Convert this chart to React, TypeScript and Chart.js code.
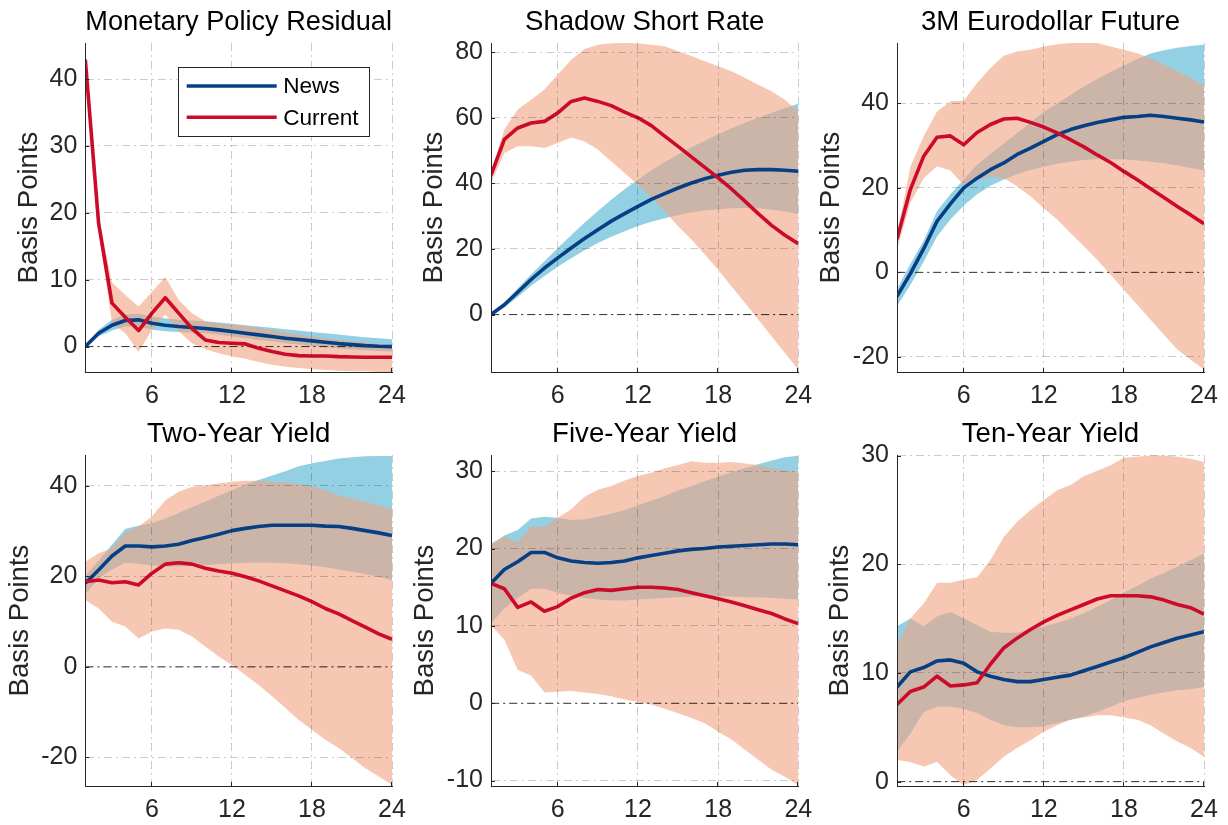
import React, { useEffect, useRef } from 'react';
import { Chart, registerables } from 'chart.js';

Chart.register(...registerables);

const FONT = '"Liberation Sans", Arial, Helvetica, sans-serif';
Chart.defaults.font.family = FONT;

// ---------------- DATA ----------------
const horizons = [1, 2, 3, 4, 5, 6, 7, 8, 9, 10, 11, 12, 13, 14, 15, 16, 17, 18, 19, 20, 21, 22, 23, 24];
const xTickValues = [6, 12, 18, 24];
const seriesLabels = ['News', 'Current'];
const yAxisLabel = 'Basis Points';

// Monetary Policy Residual
const mprNews = [0, 2.0, 3.2, 3.9, 4.0, 3.5, 3.2, 3.0, 2.85, 2.7, 2.5, 2.25, 2.0, 1.75, 1.5, 1.25, 1.05, 0.85, 0.65, 0.45, 0.3, 0.15, 0.05, 0];
const mprNewsHi = [0, 2.5, 4.0, 4.8, 4.9, 4.5, 4.2, 4.0, 3.9, 3.8, 3.6, 3.4, 3.2, 3.0, 2.8, 2.6, 2.4, 2.2, 2.0, 1.8, 1.6, 1.4, 1.25, 1.1];
const mprNewsLo = [0, 1.5, 2.4, 3.0, 3.0, 2.5, 2.3, 2.2, 2.1, 2.0, 1.8, 1.5, 1.3, 1.0, 0.8, 0.5, 0.3, 0.1, -0.1, -0.3, -0.45, -0.55, -0.65, -0.75];
const mprCurrent = [42.9, 18.4, 6.5, 4.4, 2.4, 5.0, 7.3, 5.0, 2.7, 1.0, 0.6, 0.5, 0.4, -0.25, -0.75, -1.15, -1.35, -1.4, -1.4, -1.5, -1.55, -1.6, -1.6, -1.6];
const mprCurrentHi = [43.6, 19.5, 9.6, 7.7, 6.0, 8.2, 10.4, 7.0, 5.0, 3.8, 3.5, 3.3, 3.1, 2.8, 2.5, 2.1, 1.8, 1.5, 1.3, 1.0, 0.8, 0.6, 0.4, 0.3];
const mprCurrentLo = [42.2, 17.3, 3.5, 2.0, -0.8, 2.5, 4.8, 2.3, 0.5, -0.4, -1.0, -1.5, -1.8, -2.3, -2.7, -3.0, -3.2, -3.4, -3.5, -3.6, -3.7, -3.7, -3.8, -3.8];

// Shadow Short Rate
const ssrNews = [0, 3.0, 6.8, 10.7, 14.2, 17.3, 20.3, 23.2, 25.9, 28.5, 30.8, 33.0, 35.1, 36.9, 38.6, 40.1, 41.4, 42.5, 43.4, 44.0, 44.2, 44.2, 44.0, 43.7];
const ssrNewsHi = [0, 3.8, 8.0, 12.2, 16.3, 20.3, 24.2, 28.0, 31.6, 35.0, 38.2, 41.2, 44.0, 46.5, 48.8, 51.0, 53.0, 55.0, 56.8, 58.5, 60.0, 61.5, 63.0, 64.3];
const ssrNewsLo = [0, 2.2, 5.4, 8.8, 11.8, 14.6, 17.2, 19.6, 21.8, 23.7, 25.4, 27.0, 28.3, 29.4, 30.3, 31.1, 31.7, 32.1, 32.4, 32.5, 32.4, 32.0, 31.4, 30.6];
const ssrCurrent = [42.5, 53.4, 56.9, 58.4, 58.9, 61.5, 65.0, 66.0, 65.0, 63.7, 61.7, 60.0, 57.6, 54.4, 51.3, 48.1, 44.9, 41.7, 38.3, 34.6, 30.8, 27.2, 24.2, 21.6];
const ssrCurrentHi = [43.7, 56.4, 62.5, 65.5, 68.6, 73.2, 77.7, 81.0, 82.3, 82.7, 82.8, 82.7, 82.3, 81.8, 80.3, 78.8, 77.2, 75.7, 74.2, 72.2, 70.1, 68.1, 65.5, 62.0];
const ssrCurrentLo = [40.1, 49.3, 51.3, 51.3, 50.8, 52.3, 54.0, 52.8, 50.3, 46.7, 43.2, 39.6, 35.6, 31.5, 26.9, 22.9, 18.3, 13.7, 8.6, 3.6, -1.5, -6.6, -11.7, -16.8];

// 3M Eurodollar Future
const edNews = [-5.7, -0.3, 5.6, 12.1, 16.2, 20.0, 22.3, 24.3, 25.9, 27.9, 29.4, 31.0, 32.6, 33.8, 34.7, 35.5, 36.1, 36.7, 36.9, 37.2, 36.9, 36.5, 36.1, 35.6];
const edNewsHi = [-4.0, 2.0, 7.5, 14.5, 18.5, 22.0, 25.5, 28.0, 30.5, 33.0, 35.5, 38.0, 40.0, 42.0, 44.0, 45.8, 47.5, 49.0, 50.5, 51.8, 52.6, 53.2, 53.6, 53.9];
const edNewsLo = [-8.0, -3.0, 2.5, 8.5, 12.5, 15.8, 18.5, 20.5, 22.0, 23.2, 24.2, 25.0, 25.7, 26.2, 26.6, 26.8, 26.8, 26.7, 26.5, 26.2, 25.8, 25.3, 24.7, 24.1];
const edCurrent = [7.9, 19.6, 27.5, 32.0, 32.3, 30.2, 33.1, 35.0, 36.3, 36.5, 35.5, 34.4, 33.0, 31.4, 29.7, 27.8, 26.0, 23.9, 21.9, 19.8, 17.7, 15.6, 13.6, 11.5];
const edCurrentHi = [8.9, 25.0, 32.2, 38.1, 40.5, 40.6, 44.8, 48.4, 51.3, 52.3, 52.7, 53.5, 54.0, 54.3, 54.3, 54.3, 53.5, 52.7, 51.9, 50.7, 49.2, 47.6, 46.0, 44.2];
const edCurrentLo = [5.4, 16.4, 22.3, 25.1, 24.1, 20.7, 21.8, 22.7, 22.3, 20.4, 18.0, 15.2, 12.5, 9.3, 6.2, 3.0, -0.6, -4.1, -7.7, -11.2, -14.8, -18.3, -20.7, -23.0];

// Two-Year Yield
const y2News = [18.5, 21.4, 24.5, 26.7, 26.7, 26.5, 26.7, 27.1, 27.9, 28.6, 29.3, 30.1, 30.6, 31.0, 31.3, 31.3, 31.3, 31.3, 31.1, 31.0, 30.6, 30.1, 29.6, 29.0];
const y2NewsHi = [20.0, 23.5, 27.0, 30.5, 31.2, 31.8, 32.8, 34.0, 35.3, 36.5, 37.8, 39.0, 40.3, 41.3, 42.3, 43.2, 44.3, 45.0, 45.5, 46.0, 46.3, 46.5, 46.6, 46.6];
const y2NewsLo = [16.0, 19.5, 21.5, 23.0, 22.8, 22.4, 22.2, 22.2, 22.3, 22.5, 22.7, 22.9, 23.0, 23.0, 23.0, 22.9, 22.7, 22.4, 22.0, 21.5, 21.0, 20.5, 19.9, 19.2];
const y2Current = [18.8, 19.2, 18.6, 18.8, 18.1, 20.7, 22.7, 23.0, 22.7, 21.8, 21.2, 20.7, 19.9, 19.0, 17.9, 16.8, 15.7, 14.4, 12.9, 11.7, 10.2, 8.8, 7.3, 6.1];
const y2CurrentHi = [23.2, 25.1, 26.2, 29.8, 31.0, 33.2, 36.8, 38.7, 39.8, 40.1, 40.5, 40.9, 41.1, 41.1, 40.9, 40.7, 40.4, 39.9, 39.0, 37.9, 37.2, 36.5, 35.7, 34.9];
const y2CurrentLo = [14.8, 12.9, 10.0, 8.9, 6.3, 7.8, 8.5, 8.2, 6.7, 4.5, 2.3, 0.4, -1.8, -4.0, -6.5, -9.1, -11.7, -13.9, -16.1, -17.9, -20.1, -22.4, -24.2, -26.0];

// Five-Year Yield
const y5News = [15.5, 17.3, 18.3, 19.5, 19.5, 18.8, 18.4, 18.2, 18.1, 18.2, 18.4, 18.8, 19.1, 19.4, 19.7, 19.9, 20.0, 20.2, 20.3, 20.4, 20.5, 20.6, 20.6, 20.5];
const y5NewsHi = [20.5, 21.7, 22.4, 23.9, 24.1, 24.0, 23.7, 23.8, 24.1, 24.5, 25.0, 25.6, 26.2, 26.8, 27.5, 28.1, 28.7, 29.3, 29.9, 30.4, 30.9, 31.4, 31.8, 32.0];
const y5NewsLo = [10.3, 12.3, 13.6, 14.8, 14.8, 14.3, 13.9, 13.6, 13.4, 13.3, 13.3, 13.4, 13.5, 13.6, 13.7, 13.8, 13.8, 13.8, 13.8, 13.7, 13.7, 13.6, 13.5, 13.4];
const y5Current = [15.5, 14.8, 12.4, 13.1, 11.9, 12.5, 13.6, 14.3, 14.7, 14.6, 14.8, 15.0, 15.0, 14.9, 14.7, 14.3, 13.9, 13.5, 13.1, 12.6, 12.1, 11.6, 10.9, 10.3];
const y5CurrentHi = [20.7, 21.6, 20.8, 22.9, 22.8, 24.0, 25.1, 26.7, 27.6, 28.1, 28.8, 29.4, 29.8, 30.4, 30.8, 31.3, 31.1, 31.1, 31.2, 31.0, 30.8, 30.4, 30.1, 30.0];
const y5CurrentLo = [10.1, 8.2, 4.3, 3.6, 1.4, 1.5, 1.6, 1.4, 1.2, 0.9, 0.5, 0.2, -0.2, -0.7, -1.3, -1.9, -2.6, -3.7, -4.7, -6.0, -7.3, -8.6, -9.5, -10.6];

// Ten-Year Yield
const y10News = [8.7, 10.1, 10.5, 11.1, 11.2, 10.9, 10.1, 9.7, 9.4, 9.2, 9.2, 9.4, 9.6, 9.8, 10.2, 10.6, 11.0, 11.4, 11.9, 12.4, 12.8, 13.2, 13.5, 13.8];
const y10NewsHi = [14.3, 15.0, 14.3, 15.2, 15.6, 15.0, 14.4, 13.8, 13.7, 13.7, 14.0, 14.3, 14.6, 15.0, 15.5, 16.1, 16.7, 17.4, 18.0, 18.7, 19.2, 19.8, 20.4, 21.0];
const y10NewsLo = [2.8, 4.4, 6.4, 6.9, 6.9, 6.7, 6.3, 5.7, 5.2, 5.0, 5.0, 5.1, 5.4, 5.7, 6.0, 6.4, 6.9, 7.4, 7.7, 8.0, 8.2, 8.4, 8.5, 8.7];
const y10Current = [7.1, 8.3, 8.7, 9.7, 8.8, 8.9, 9.1, 10.8, 12.3, 13.2, 14.0, 14.7, 15.3, 15.8, 16.3, 16.8, 17.1, 17.1, 17.1, 17.0, 16.7, 16.3, 16.0, 15.4];
const y10CurrentHi = [12.6, 15.0, 16.4, 18.3, 18.3, 18.6, 18.8, 20.4, 22.5, 23.9, 25.0, 25.9, 26.8, 27.3, 28.1, 28.6, 29.1, 29.8, 29.9, 30.0, 30.0, 29.9, 29.7, 29.4];
const y10CurrentLo = [2.0, 1.8, 1.4, 1.8, 0.6, -0.3, 0.15, 1.2, 2.3, 3.1, 3.8, 4.6, 5.2, 5.7, 5.9, 6.1, 6.1, 5.9, 5.7, 5.2, 4.4, 3.7, 3.1, 2.3];

// y-axis ticks and ranges
const mprYTicks = [0, 10, 20, 30, 40];
const ssrYTicks = [0, 20, 40, 60, 80];
const edYTicks = [-20, 0, 20, 40];
const y2YTicks = [-20, 0, 20, 40];
const y5YTicks = [-10, 0, 10, 20, 30];
const y10YTicks = [0, 10, 20, 30];

const panels = [
  { title: 'Monetary Policy Residual', news: mprNews, newsHi: mprNewsHi, newsLo: mprNewsLo, cur: mprCurrent, curHi: mprCurrentHi, curLo: mprCurrentLo, yTicks: mprYTicks, yMin: -3.8, yMax: 45.4, legend: true },
  { title: 'Shadow Short Rate', news: ssrNews, newsHi: ssrNewsHi, newsLo: ssrNewsLo, cur: ssrCurrent, curHi: ssrCurrentHi, curLo: ssrCurrentLo, yTicks: ssrYTicks, yMin: -17.5, yMax: 82.8 },
  { title: '3M Eurodollar Future', news: edNews, newsHi: edNewsHi, newsLo: edNewsLo, cur: edCurrent, curHi: edCurrentHi, curLo: edCurrentLo, yTicks: edYTicks, yMin: -23.6, yMax: 54.3 },
  { title: 'Two-Year Yield', news: y2News, newsHi: y2NewsHi, newsLo: y2NewsLo, cur: y2Current, curHi: y2CurrentHi, curLo: y2CurrentLo, yTicks: y2YTicks, yMin: -26.3, yMax: 46.8 },
  { title: 'Five-Year Yield', news: y5News, newsHi: y5NewsHi, newsLo: y5NewsLo, cur: y5Current, curHi: y5CurrentHi, curLo: y5CurrentLo, yTicks: y5YTicks, yMin: -10.7, yMax: 32.1 },
  { title: 'Ten-Year Yield', news: y10News, newsHi: y10NewsHi, newsLo: y10NewsLo, cur: y10Current, curHi: y10CurrentHi, curLo: y10CurrentLo, yTicks: y10YTicks, yMin: -0.4, yMax: 30.05 },
];

// ---------------- LAYOUT / STYLE ----------------
const COLS = [
  { axL: 85.3, axR: 392 },
  { axL: 491, axR: 798.3 },
  { axL: 897, axR: 1204 },
];
const ROWS = [
  { top: 43, bottom: 372, canvasTop: 0 },
  { top: 455, bottom: 786, canvasTop: 412 },
];
const LABEL_X = [29.2, 434.2, 831.7, 20, 425.5, 840.5];

const TICK_SIZE = 25;
const LABEL_SIZE = 27.6;
const LEGEND_SIZE = 22.6;
const X_AXIS_H = 38;
const PAD_R = 35;
const LINE_W = 3.6;

const NEWS_LINE = '#073f85';
const CURRENT_LINE = '#cc0a2a';
const NEWS_BAND = '#93d0e3';
const CURRENT_BAND = 'rgba(240,163,130,0.6)';
const AXIS_COLOR = '#262626';
const GRID_COLOR = 'rgba(0,0,0,0.2)';
const DASH_DOT = [8, 4, 2, 4];

const pts = (ys: number[]) => horizons.map((h, i) => ({ x: h, y: ys[i] }));

const inwardTicks = {
  id: 'inwardTicks',
  afterDraw(chart: any) {
    const { ctx, chartArea: a, scales } = chart;
    const x = scales.x, y = scales.y;
    ctx.save();
    ctx.strokeStyle = AXIS_COLOR;
    ctx.lineWidth = 1;
    x.ticks.forEach((t: any) => {
      const px = Math.round(x.getPixelForValue(t.value)) - 0.5;
      ctx.beginPath();
      ctx.moveTo(px, a.bottom);
      ctx.lineTo(px, a.bottom - 4);
      ctx.stroke();
    });
    y.ticks.forEach((t: any) => {
      const py = Math.round(y.getPixelForValue(t.value)) + 0.5;
      ctx.beginPath();
      ctx.moveTo(a.left, py);
      ctx.lineTo(a.left + 4, py);
      ctx.stroke();
    });
    ctx.restore();
  },
};

const insideLegend = {
  id: 'insideLegend',
  afterDraw(chart: any, _args: any, opts: any) {
    if (!opts || !opts.display) return;
    const { ctx, chartArea: a } = chart;
    const items = chart.data.datasets.filter((d: any) => seriesLabels.includes(d.label));
    const x0 = a.left + 92.4;
    const x1 = a.right - 23;
    const y0 = a.top + 24.3;
    const y1 = y0 + 69.4;
    ctx.save();
    ctx.fillStyle = '#ffffff';
    ctx.fillRect(x0, y0, x1 - x0, y1 - y0);
    ctx.strokeStyle = AXIS_COLOR;
    ctx.lineWidth = 1;
    ctx.strokeRect(Math.round(x0) + 0.5, Math.round(y0) + 0.5, Math.round(x1 - x0), Math.round(y1 - y0));
    items.forEach((d: any, i: number) => {
      const yy = y0 + 18.7 + i * 31.3;
      ctx.strokeStyle = d.borderColor;
      ctx.lineWidth = d.borderWidth;
      ctx.beginPath();
      ctx.moveTo(x0 + 9, yy);
      ctx.lineTo(x0 + 99, yy);
      ctx.stroke();
      ctx.fillStyle = '#000000';
      ctx.font = `${LEGEND_SIZE}px ${FONT}`;
      ctx.textBaseline = 'middle';
      ctx.textAlign = 'left';
      ctx.fillText(d.label, x0 + 105.5, yy + 1);
    });
    ctx.restore();
  },
};

function Panel({ idx }: { idx: number }) {
  const ref = useRef<HTMLCanvasElement>(null);
  const p = panels[idx];
  const col = COLS[idx % 3];
  const row = ROWS[Math.floor(idx / 3)];
  const labelX = LABEL_X[idx];
  const half = (LABEL_SIZE * 1.2) / 2;
  const cx0 = Math.floor(labelX - half - 2);
  const yTitlePad = labelX - cx0 - half;
  const yAxisW = col.axL - cx0;
  const W = Math.ceil(col.axR - cx0 + PAD_R);
  const padR = W - (col.axR - cx0);
  const H = Math.round(row.bottom + X_AXIS_H - row.canvasTop);
  const titleBoxH = row.top - row.canvasTop;
  const titlePadTop = 6;
  const titlePadBottom = titleBoxH - titlePadTop - LABEL_SIZE * 1.2;

  useEffect(() => {
    const canvas = ref.current!;
    const chart = new Chart(canvas, {
      type: 'line',
      data: {
        datasets: [
          { label: 'newsHi', data: pts(p.newsHi), borderWidth: 0, pointRadius: 0, fill: '+1', backgroundColor: NEWS_BAND, borderColor: 'transparent', order: 6 },
          { label: 'newsLo', data: pts(p.newsLo), borderWidth: 0, pointRadius: 0, fill: false, borderColor: 'transparent', order: 6 },
          { label: 'curHi', data: pts(p.curHi), borderWidth: 0, pointRadius: 0, fill: '+1', backgroundColor: CURRENT_BAND, borderColor: 'transparent', order: 5 },
          { label: 'curLo', data: pts(p.curLo), borderWidth: 0, pointRadius: 0, fill: false, borderColor: 'transparent', order: 5 },
          { label: 'zero', data: [{ x: horizons[0], y: 0 }, { x: horizons[horizons.length - 1], y: 0 }], borderWidth: 1, borderColor: 'rgba(0,0,0,0.75)', borderDash: DASH_DOT, pointRadius: 0, fill: false, order: 3 },
          { label: seriesLabels[0], data: pts(p.news), borderWidth: LINE_W, borderColor: NEWS_LINE, pointRadius: 0, fill: false, borderJoinStyle: 'round', order: 2 },
          { label: seriesLabels[1], data: pts(p.cur), borderWidth: LINE_W, borderColor: CURRENT_LINE, pointRadius: 0, fill: false, borderJoinStyle: 'round', order: 1 },
        ] as any,
      },
      options: {
        animation: false,
        responsive: false,
        events: [],
        layout: { padding: { left: 0, right: padR, top: 0, bottom: 0 } },
        plugins: {
          legend: { display: false },
          tooltip: { enabled: false },
          title: {
            display: true,
            text: p.title,
            fullSize: false,
            color: '#000000',
            font: { size: LABEL_SIZE, weight: 'normal', family: FONT },
            padding: { top: titlePadTop, bottom: titlePadBottom },
          },
          insideLegend: { display: !!p.legend },
        } as any,
        scales: {
          x: {
            type: 'linear',
            position: 'bottom',
            min: horizons[0],
            max: horizons[horizons.length - 1],
            bounds: 'data',
            afterBuildTicks: (s: any) => { s.ticks = xTickValues.map((v) => ({ value: v })); },
            afterFit: (s: any) => { s.height = X_AXIS_H; },
            ticks: { color: AXIS_COLOR, font: { size: TICK_SIZE, family: FONT }, padding: 9.5, autoSkip: false, maxRotation: 0 },
            grid: { color: GRID_COLOR, lineWidth: 1, drawTicks: false, z: 1 },
            border: { display: true, color: AXIS_COLOR, width: 1, dash: DASH_DOT, z: 2 },
          },
          y: {
            type: 'linear',
            position: 'left',
            min: p.yMin,
            max: p.yMax,
            bounds: 'data',
            afterBuildTicks: (s: any) => { s.ticks = p.yTicks.map((v) => ({ value: v })); },
            afterFit: (s: any) => { s.width = yAxisW; },
            ticks: { color: AXIS_COLOR, font: { size: TICK_SIZE, family: FONT }, padding: 8, autoSkip: false },
            grid: { color: GRID_COLOR, lineWidth: 1, drawTicks: false, z: 1 },
            border: { display: true, color: AXIS_COLOR, width: 1, dash: DASH_DOT, z: 2 },
            title: {
              display: true,
              text: yAxisLabel,
              color: AXIS_COLOR,
              font: { size: LABEL_SIZE, family: FONT },
              padding: { top: yTitlePad, bottom: 0 },
            },
          },
        } as any,
      },
      plugins: [inwardTicks, insideLegend],
    });
    return () => chart.destroy();
  }, []);

  return (
    <canvas
      ref={ref}
      width={W}
      height={H}
      style={{ position: 'absolute', left: cx0, top: row.canvasTop, width: W, height: H }}
    />
  );
}

export default function App() {
  return (
    <div style={{ position: 'fixed', left: 0, top: 0, width: 1228, height: 825, background: '#ffffff', overflow: 'hidden' }}>
      {panels.map((_, i) => (
        <Panel key={i} idx={i} />
      ))}
    </div>
  );
}
